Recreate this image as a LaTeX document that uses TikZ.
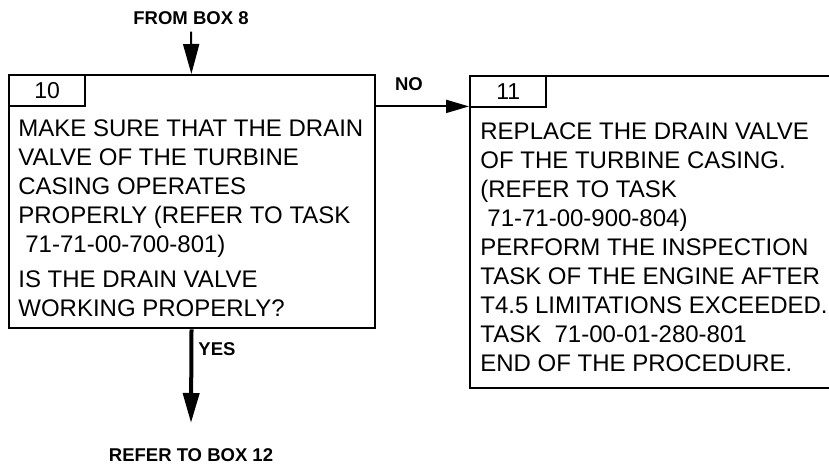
\documentclass[tikz,border=0pt]{standalone}
\usepackage{fontspec}
\setmainfont{Liberation Sans}
\usetikzlibrary{arrows.meta, positioning}

\begin{document}
\begin{tikzpicture}[
    x=0.5pt, y=-0.5pt,
    stepbox/.style={rectangle, draw, line width=1.2pt, anchor=north west,
                    inner sep=0pt},
    numtab/.style={rectangle, draw, line width=1.2pt, anchor=north west,
                   minimum width=38pt, minimum height=15.5pt, inner sep=0pt,
                   font=\fontsize{11.5}{12}\selectfont},
    boxtext/.style={anchor=north west, align=left, inner sep=0pt,
                    font=\fontsize{12}{14.5}\selectfont},
    flowlabel/.style={font=\fontsize{9.25}{11}\selectfont\bfseries},
    arrow/.style={-{Triangle[length=15pt,width=8pt]}, line width=1pt},
    noarrow/.style={-{Triangle[length=11.5pt,width=6.5pt]}, line width=1pt},
    yesarrow/.style={-{Triangle[length=15pt,width=8pt]}, line width=2pt}
]
\useasboundingbox (0,0) rectangle (829,465);

% Box 10
\node[stepbox, minimum width=183pt, minimum height=126.5pt] (box10) at (8,74) {};
\node[numtab] (tab10) at (box10.north west) {10};
\node[boxtext] (q10a) at (18,119) {MAKE SURE THAT THE DRAIN\\VALVE OF THE TURBINE\\CASING OPERATES\\PROPERLY (REFER TO TASK\\\hspace*{3.5pt}71-71-00-700-801)};
\node[boxtext] (q10b) at (18,270) {IS THE DRAIN VALVE\\WORKING PROPERLY?};

% Box 11
\node[stepbox, minimum width=186pt, minimum height=156pt] (box11) at (469,75) {};
\node[numtab] (tab11) at (box11.north west) {11};
\node[boxtext] (act11) at (480,122) {REPLACE THE DRAIN VALVE\\OF THE TURBINE CASING.\\(REFER TO TASK\\\hspace*{3.5pt}71-71-00-900-804)\\PERFORM THE INSPECTION\\TASK OF THE ENGINE AFTER\\T4.5 LIMITATIONS EXCEEDED.\\TASK \ 71-00-01-280-801\\END OF THE PROCEDURE.};

% Labels
\node[flowlabel] (from8) at (191,18) {FROM BOX 8};
\node[flowlabel] (lblno) at (409,84) {NO};
\node[flowlabel] (lblyes) at (217,349) {YES};
\node[flowlabel] (to12) at (191,455) {REFER TO BOX 12};
\coordinate (yesend) at (191,423);

% Arrows
\draw[arrow] (from8) -- (box10);
\draw[noarrow] ([yshift=1pt]box10.east |- tab11.south) -- ([yshift=1pt]tab11.south west);
\draw[yesarrow] (box10) -- (yesend);

\end{tikzpicture}
\end{document}
